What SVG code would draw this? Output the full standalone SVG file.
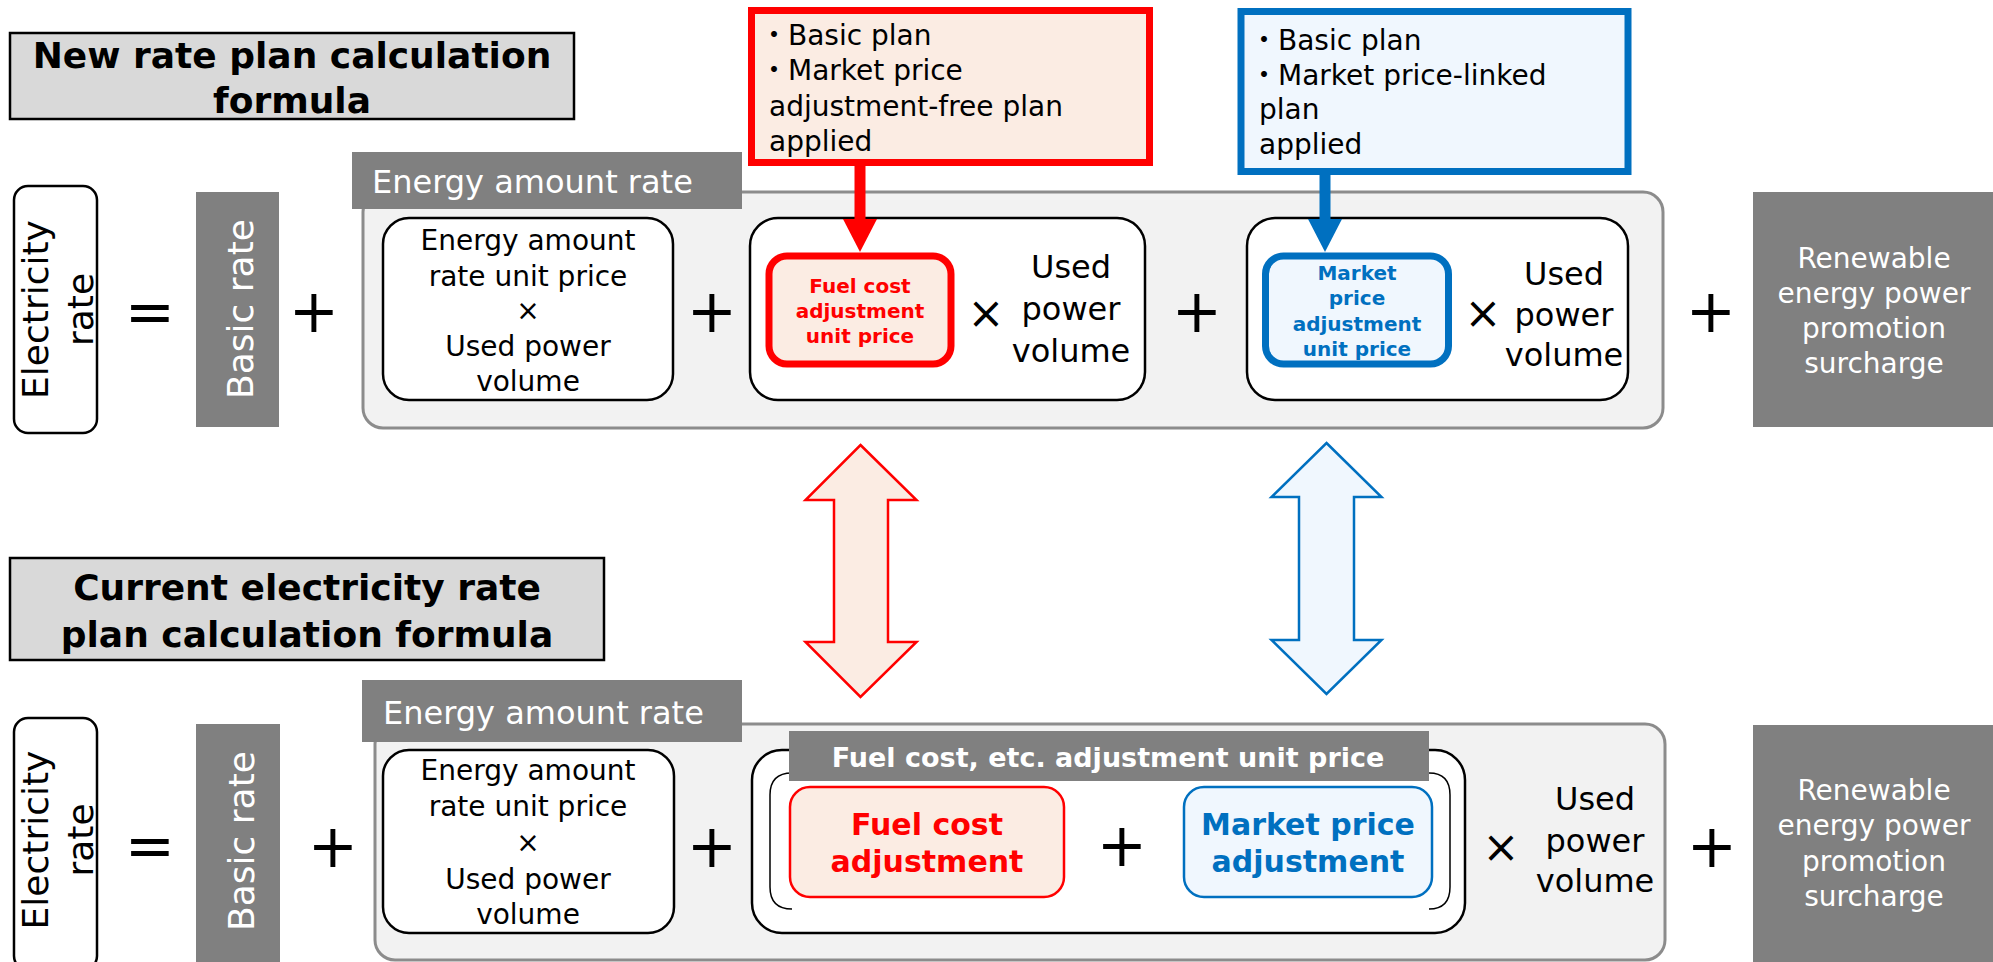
<svg xmlns="http://www.w3.org/2000/svg" width="1993" height="962" viewBox="0 0 1993 962">
<style>
text{font-family:"DejaVu Sans","Noto Sans CJK JP",sans-serif;}
.title{fill:#d9d9d9;stroke:#000;stroke-width:2.5}
.tt{font-size:36px;font-weight:bold;fill:#000;text-anchor:middle}
.tab{fill:#808080}
.tabt{font-size:32px;fill:#fff}
.panel{fill:#f2f2f2;stroke:#8c8c8c;stroke-width:3}
.wbox{fill:#fff;stroke:#000;stroke-width:2.5}
.t28{font-size:28px;fill:#000;text-anchor:middle}
.t32{font-size:32px;fill:#000;text-anchor:middle}
.vt{font-size:36px;fill:#000;text-anchor:middle}
.vw{font-size:36px;fill:#fff;text-anchor:middle}
.gray{fill:#808080}
.wt{font-size:28px;fill:#fff;text-anchor:middle}
.op{font-size:60px;fill:#000;text-anchor:middle}
.mul{font-size:44px;fill:#000;text-anchor:middle}
.redf{fill:#fbece3;stroke:#ff0000}
.bluef{fill:#f0f7fe;stroke:#0070c0}
.rb{font-weight:bold;fill:#ff0000;text-anchor:middle}
.bb{font-weight:bold;fill:#0070c0;text-anchor:middle}
.note{font-size:28px;fill:#000}
</style>

<!-- ===== TOP SECTION ===== -->
<g id="title-new">
<rect class="title" x="10" y="33" width="564" height="86"/>
<text class="tt" x="292" y="68">New rate plan calculation</text>
<text class="tt" x="292" y="113">formula</text>
</g>

<g id="panel-top">
<rect class="panel" x="363" y="192" width="1300" height="236" rx="20"/>
</g>
<g id="tab-top">
<rect class="tab" x="352" y="152" width="390" height="57"/>
<text class="tabt" x="372" y="193">Energy amount rate</text>
</g>

<g id="elec-top">
<rect class="wbox" x="14" y="186" width="83" height="247" rx="14"/>
<text class="vt" transform="translate(48,309.5) rotate(-90)">Electricity</text>
<text class="vt" transform="translate(93,309.5) rotate(-90)">rate</text>
</g>
<text class="op" x="150" y="332" font-size="58">=</text>
<g id="basic-top">
<rect class="gray" x="196" y="192" width="83" height="235"/>
<text class="vw" transform="translate(253,309) rotate(-90)">Basic rate</text>
</g>
<text class="op" x="314" y="332">+</text>

<g id="unit-top">
<rect class="wbox" x="383" y="218" width="290" height="182" rx="26"/>
<text class="t28" x="528" y="250">Energy amount</text>
<text class="t28" x="528" y="286">rate unit price</text>
<text class="t28" x="528" y="320">×</text>
<text class="t28" x="528" y="356">Used power</text>
<text class="t28" x="528" y="391">volume</text>
</g>
<text class="op" x="712" y="332">+</text>

<g id="fuel-top">
<rect class="wbox" x="750" y="218" width="395" height="182" rx="28"/>
<rect class="redf" x="769" y="256" width="182" height="108" rx="18" stroke-width="7"/>
<text class="rb" font-size="20" x="860" y="293">Fuel cost</text>
<text class="rb" font-size="20" x="860" y="318">adjustment</text>
<text class="rb" font-size="20" x="860" y="343">unit price</text>
<text class="mul" x="986" y="328">×</text>
<text class="t32" x="1071" y="278">Used</text>
<text class="t32" x="1071" y="320">power</text>
<text class="t32" x="1071" y="362">volume</text>
</g>
<text class="op" x="1197" y="332">+</text>

<g id="market-top">
<rect class="wbox" x="1247" y="218" width="381" height="182" rx="28"/>
<rect class="bluef" x="1265.5" y="256" width="183" height="108" rx="18" stroke-width="7"/>
<text class="bb" font-size="20" x="1357" y="280">Market</text>
<text class="bb" font-size="20" x="1357" y="305">price</text>
<text class="bb" font-size="20" x="1357" y="331">adjustment</text>
<text class="bb" font-size="20" x="1357" y="356">unit price</text>
<text class="mul" x="1483" y="328">×</text>
<text class="t32" x="1564" y="285">Used</text>
<text class="t32" x="1564" y="326">power</text>
<text class="t32" x="1564" y="366">volume</text>
</g>
<text class="op" x="1711" y="332">+</text>

<g id="renew-top">
<rect class="gray" x="1753" y="192" width="240" height="235"/>
<text class="wt" x="1874" y="268">Renewable</text>
<text class="wt" x="1874" y="303">energy power</text>
<text class="wt" x="1874" y="338">promotion</text>
<text class="wt" x="1874" y="373">surcharge</text>
</g>

<g id="note-red">
<rect class="redf" x="751.5" y="10.5" width="398" height="152" stroke-width="7"/>
<text class="note" x="760" y="45">・Basic plan</text>
<text class="note" x="760" y="80">・Market price</text>
<text class="note" x="769" y="116">adjustment-free plan</text>
<text class="note" x="769" y="151">applied</text>
</g>

<g id="note-blue">
<rect class="bluef" x="1241" y="11.5" width="387" height="160" stroke-width="7"/>
<text class="note" x="1250" y="50">・Basic plan</text>
<text class="note" x="1250" y="85">・Market price-linked</text>
<text class="note" x="1259" y="119">plan</text>
<text class="note" x="1259" y="154">applied</text>
</g>

<!-- ===== BOTTOM SECTION ===== -->
<g id="title-current">
<rect class="title" x="10" y="558" width="594" height="102"/>
<text class="tt" x="307" y="600">Current electricity rate</text>
<text class="tt" x="307" y="647">plan calculation formula</text>
</g>

<g id="panel-bottom">
<rect class="panel" x="375" y="724" width="1290" height="236" rx="20"/>
</g>
<g id="tab-bottom">
<rect class="tab" x="362" y="680" width="380" height="62"/>
<text class="tabt" x="383" y="724">Energy amount rate</text>
</g>

<g id="elec-bottom">
<rect class="wbox" x="14" y="718" width="83" height="252" rx="14"/>
<text class="vt" transform="translate(48,840) rotate(-90)">Electricity</text>
<text class="vt" transform="translate(93,840) rotate(-90)">rate</text>
</g>
<text class="op" x="150" y="866" font-size="58">=</text>
<g id="basic-bottom">
<rect class="gray" x="196" y="724" width="84" height="240"/>
<text class="vw" transform="translate(254,841) rotate(-90)">Basic rate</text>
</g>
<text class="op" x="333" y="867">+</text>

<g id="unit-bottom">
<rect class="wbox" x="383" y="750" width="291" height="183" rx="26"/>
<text class="t28" x="528" y="780">Energy amount</text>
<text class="t28" x="528" y="816">rate unit price</text>
<text class="t28" x="528" y="852">×</text>
<text class="t28" x="528" y="889">Used power</text>
<text class="t28" x="528" y="924">volume</text>
</g>
<text class="op" x="712" y="867">+</text>

<g id="fuelcost-etc">
<rect class="wbox" x="752" y="750" width="713" height="183" rx="30"/>
<path d="M792,773 Q770,773 770,795 L770,887 Q770,909 792,909 M1429,773 Q1450,773 1450,795 L1450,887 Q1450,909 1429,909" fill="none" stroke="#000" stroke-width="1.5"/>
<rect class="gray" x="789" y="731" width="640" height="50"/>
<text x="1108" y="767" font-size="27" font-weight="bold" fill="#fff" text-anchor="middle">Fuel cost, etc. adjustment unit price</text>
</g>
<g id="fuel-bottom">
<rect class="redf" x="790" y="787" width="274" height="110" rx="20" stroke-width="2.5"/>
<text class="rb" font-size="30" x="927" y="835">Fuel cost</text>
<text class="rb" font-size="30" x="927" y="872">adjustment</text>
</g>
<text class="op" x="1122" y="866">+</text>
<g id="market-bottom">
<rect class="bluef" x="1184" y="787" width="248" height="110" rx="20" stroke-width="2.5"/>
<text class="bb" font-size="30" x="1308" y="835">Market price</text>
<text class="bb" font-size="30" x="1308" y="872">adjustment</text>
</g>
<text class="mul" x="1501" y="862">×</text>
<g id="used-bottom">
<text class="t32" x="1595" y="810">Used</text>
<text class="t32" x="1595" y="852">power</text>
<text class="t32" x="1595" y="892">volume</text>
</g>
<text class="op" x="1712" y="867">+</text>

<g id="renew-bottom">
<rect class="gray" x="1753" y="725" width="240" height="237"/>
<text class="wt" x="1874" y="800">Renewable</text>
<text class="wt" x="1874" y="835">energy power</text>
<text class="wt" x="1874" y="871">promotion</text>
<text class="wt" x="1874" y="906">surcharge</text>
</g>

<!-- ===== CONNECTORS ===== -->
<g id="connectors">
<line x1="860" y1="166" x2="860" y2="221" stroke="#ff0000" stroke-width="11"/>
<polygon points="843,219 877,219 860,252" fill="#ff0000"/>
<line x1="1325" y1="175" x2="1325" y2="221" stroke="#0070c0" stroke-width="11"/>
<polygon points="1308,219 1342,219 1325,252" fill="#0070c0"/>
<polygon points="860.5,445 916.5,500 888,500 888,642 916.5,642 860.5,697 805.5,642 834,642 834,500 805.5,500" fill="#fbece3" stroke="#ff0000" stroke-width="2.5"/>
<polygon points="1326.5,443 1381.5,497 1354,497 1354,640 1381.5,640 1326.5,694 1271.5,640 1299,640 1299,497 1271.5,497" fill="#f0f7fe" stroke="#0070c0" stroke-width="2.5"/>
</g>
</svg>
